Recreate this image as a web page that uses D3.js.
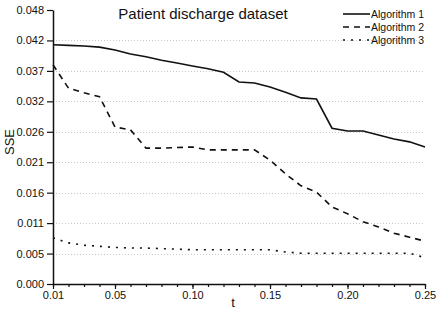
<!DOCTYPE html>
<html>
<head>
<meta charset="utf-8">
<script src="https://cdn.jsdelivr.net/npm/d3@7"></script>
<style>
  body { margin: 0; background: #fff; }
  text { font-family: "Liberation Sans", Arial, sans-serif; fill: #111; }
</style>
</head>
<body>
<script>
// t values (x axis)
var tValues = [0.01, 0.02, 0.03, 0.04, 0.05, 0.06, 0.07, 0.08, 0.09, 0.10,
               0.11, 0.12, 0.13, 0.14, 0.15, 0.16, 0.17, 0.18, 0.19, 0.20,
               0.21, 0.22, 0.23, 0.24, 0.25];

var algorithm1 = [0.0419, 0.0418, 0.0417, 0.0415, 0.0410, 0.0403, 0.0398, 0.0392, 0.0387, 0.0382,
                  0.0377, 0.0371, 0.0354, 0.0352, 0.0345, 0.0336, 0.0326, 0.0324, 0.0273, 0.0268,
                  0.0268, 0.0261, 0.0254, 0.0249, 0.0240];

var algorithm2 = [0.0384, 0.0343, 0.0335, 0.0328, 0.0275, 0.0270, 0.0238, 0.0238, 0.0239, 0.0240,
                  0.0235, 0.0235, 0.0235, 0.0235, 0.0217, 0.0193, 0.0172, 0.0161, 0.0135, 0.0123,
                  0.0109, 0.0100, 0.0089, 0.0082, 0.0075];

var algorithm3 = [0.0081, 0.0072, 0.0068, 0.0066, 0.0064, 0.0063, 0.0063, 0.0062, 0.0061, 0.0060,
                  0.0060, 0.0060, 0.0060, 0.0060, 0.0060, 0.0056, 0.0054, 0.0054, 0.0054, 0.0054,
                  0.0054, 0.0054, 0.0054, 0.0054, 0.0046];

var seriesNames = ['Algorithm 1', 'Algorithm 2', 'Algorithm 3'];

var xTickValues = [0.01, 0.05, 0.10, 0.15, 0.20, 0.25];
var xTickLabels = ['0.01', '0.05', '0.10', '0.15', '0.20', '0.25'];
var yTickLabels = ['0.000', '0.005', '0.011', '0.016', '0.021', '0.026', '0.032', '0.037', '0.042', '0.048'];

var WIDTH = 436;
var HEIGHT = 310;
var plotLeft = 53, plotRight = 425, plotTop = 10, plotBottom = 284;

var svg = d3.select('body').append('svg')
  .attr('width', WIDTH)
  .attr('height', HEIGHT);

var x = d3.scaleLinear().domain([0.01, 0.25]).range([plotLeft, plotRight]);
var y = d3.scaleLinear().domain([0, 0.048]).range([plotBottom, plotTop]);

// y ticks split the range in 9 equal steps
var yTickValues = yTickLabels.map(function(d, i) { return i * 0.048 / 9; });

// dotted grid
svg.append('g').selectAll('line')
  .data(yTickValues.slice(1, 9))
  .enter().append('line')
  .attr('x1', plotLeft).attr('x2', plotRight - 2)
  .attr('y1', function(d) { return Math.round(y(d)) + 0.5; })
  .attr('y2', function(d) { return Math.round(y(d)) + 0.5; })
  .attr('stroke', '#c8c8c8')
  .attr('stroke-width', 1)
  .attr('stroke-dasharray', '1,2');

// x axis: minor ticks every 0.01, major ticks labelled
var xMinor = d3.axisBottom(x).tickValues(tValues).tickSize(3).tickFormat('');
svg.append('g')
  .attr('transform', 'translate(0,' + plotBottom + ')')
  .call(xMinor)
  .call(function(g) { g.select('.domain').remove(); });

var xAxis = d3.axisBottom(x).tickValues(xTickValues).tickSize(5).tickSizeOuter(0)
  .tickFormat(function(d, i) { return xTickLabels[i]; });
var gx = svg.append('g')
  .attr('transform', 'translate(0,' + plotBottom + ')')
  .call(xAxis);
gx.selectAll('text').attr('font-size', 11).attr('y', 7);

var yAxis = d3.axisLeft(y).tickValues(yTickValues).tickSize(6).tickSizeOuter(0)
  .tickFormat(function(d, i) { return yTickLabels[i]; });
var gy = svg.append('g')
  .attr('transform', 'translate(' + plotLeft + ',0)')
  .call(yAxis);
gy.selectAll('text').attr('font-size', 11).attr('x', -9);

svg.selectAll('.domain').attr('stroke', '#111').attr('stroke-width', 1.5);
svg.selectAll('.tick line').attr('stroke', '#111').attr('stroke-width', 1.2);
svg.selectAll('.tick text').attr('fill', '#111').attr('font-family', '"Liberation Sans", Arial, sans-serif');

// lines
var styles = [null, '6,5', '2,6'];
var allSeries = [algorithm1, algorithm2, algorithm3];

var line = d3.line()
  .x(function(d, i) { return x(tValues[i]); })
  .y(function(d) { return y(d); });

svg.selectAll('path.series')
  .data(allSeries)
  .enter().append('path')
  .attr('class', 'series')
  .attr('d', line)
  .attr('fill', 'none')
  .attr('stroke', '#111')
  .attr('stroke-width', 1.6)
  .attr('stroke-dasharray', function(d, i) { return styles[i]; });

// titles
svg.append('text')
  .attr('x', 203).attr('y', 19)
  .attr('text-anchor', 'middle')
  .attr('font-size', 15)
  .text('Patient discharge dataset');

svg.append('text')
  .attr('transform', 'translate(14,142) rotate(-90)')
  .attr('text-anchor', 'middle')
  .attr('font-size', 13)
  .text('SSE');

svg.append('text')
  .attr('x', 233).attr('y', 307)
  .attr('text-anchor', 'middle')
  .attr('font-size', 13)
  .text('t');

// legend
var legendY = [14, 27, 40];
var legend = svg.append('g').selectAll('g')
  .data(seriesNames)
  .enter().append('g')
  .attr('transform', function(d, i) { return 'translate(343,' + legendY[i] + ')'; });

legend.append('line')
  .attr('x1', 0).attr('x2', 27)
  .attr('stroke', '#111')
  .attr('stroke-width', 1.6)
  .attr('stroke-dasharray', function(d, i) { return styles[i]; });

legend.append('text')
  .attr('x', 28).attr('y', 4)
  .attr('font-size', 10.5)
  .text(function(d) { return d; });
</script>
</body>
</html>
